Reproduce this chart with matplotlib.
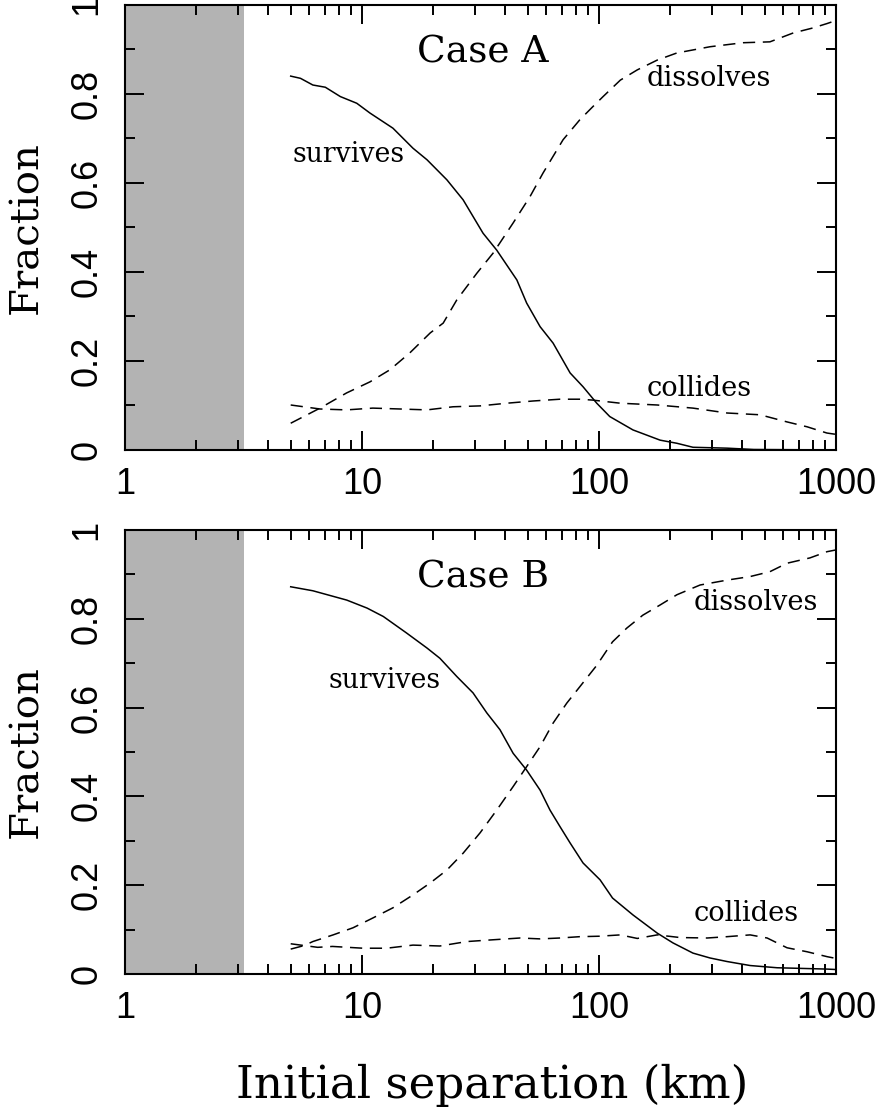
import numpy as np
import matplotlib
matplotlib.use("Agg")
import matplotlib.pyplot as plt
from matplotlib.ticker import FixedLocator, FixedFormatter

# --- data ---
# Case A
sa_x = [5.0, 5.5, 6.2, 7.0, 8.1, 9.5, 10.8, 13.5, 16.4, 18.8, 22.8, 26.7, 32.4, 37, 45, 49.5,
        56.4, 64, 75.5, 85.6, 97.8, 111, 139, 181, 213, 249, 347, 450, 1000]
sa_y = [0.84, 0.835, 0.82, 0.815, 0.794, 0.779, 0.757, 0.723, 0.678, 0.652, 0.607, 0.562,
        0.487, 0.449, 0.382, 0.33, 0.277, 0.24, 0.173, 0.142, 0.105, 0.075, 0.045, 0.022,
        0.015, 0.006, 0.004, 0.001, 0.0]

da_x = [5.0, 6.65, 8.6, 10.8, 13.1, 15.9, 19.4, 22, 25.1, 30.5, 35.7, 43.4, 51.1, 58, 70.5,
        83, 94, 104, 123, 145, 176, 213, 294, 405, 526, 660, 796, 915, 1000]
da_y = [0.06, 0.094, 0.128, 0.153, 0.18, 0.218, 0.263, 0.285, 0.337, 0.397, 0.442, 0.51,
        0.569, 0.622, 0.697, 0.742, 0.771, 0.794, 0.831, 0.854, 0.876, 0.892, 0.906, 0.915,
        0.917, 0.937, 0.948, 0.958, 0.965]

ca_x = [5.0, 6.65, 8.6, 11.1, 14.5, 18.8, 24.2, 31.5, 40.8, 52.7, 68.4, 83, 94, 123, 176,
        249, 347, 478, 621, 755, 915, 1000]
ca_y = [0.101, 0.092, 0.09, 0.094, 0.092, 0.09, 0.097, 0.099, 0.105, 0.11, 0.114, 0.114,
        0.112, 0.105, 0.101, 0.094, 0.083, 0.079, 0.063, 0.052, 0.038, 0.035]

# Case B
sb_x = [5.0, 6.2, 8.62, 10.5, 12.3, 15.4, 18.8, 21.3, 25.1, 29.4, 33.6, 38.2, 43.4, 49.5,
        56.4, 62.1, 68.4, 75.5, 85.6, 101, 114, 139, 176, 205, 249, 294, 347, 434, 564, 916, 1000]
sb_y = [0.872, 0.863, 0.842, 0.824, 0.805, 0.768, 0.734, 0.711, 0.67, 0.633, 0.588, 0.55,
        0.497, 0.459, 0.414, 0.369, 0.332, 0.295, 0.25, 0.212, 0.171, 0.133, 0.092, 0.07,
        0.047, 0.036, 0.028, 0.019, 0.014, 0.011, 0.01]

db_x = [5.0, 5.7, 6.2, 7.55, 9.16, 11.1, 13.5, 16.4, 19.4, 22.8, 26.7, 31.5, 37, 43.4, 49.5,
        56.4, 64, 73.1, 83, 97.8, 114, 131, 153, 181, 213, 267, 347, 434, 526, 621, 776, 916, 1000]
db_y = [0.056, 0.064, 0.073, 0.088, 0.104, 0.126, 0.149, 0.178, 0.205, 0.234, 0.272, 0.318,
        0.369, 0.422, 0.467, 0.512, 0.565, 0.61, 0.647, 0.695, 0.748, 0.779, 0.808, 0.831,
        0.854, 0.876, 0.887, 0.895, 0.906, 0.925, 0.937, 0.951, 0.955]

cb_x = [5.0, 5.7, 6.5, 7.5, 10.1, 12.7, 16.4, 21.3, 27.7, 35.7, 46.4, 56.4, 68.4, 83, 100,
        123, 145, 176, 220, 286, 347, 434, 512, 621, 755, 916, 1000]
cb_y = [0.068, 0.064, 0.06, 0.062, 0.058, 0.058, 0.065, 0.063, 0.073, 0.077, 0.081, 0.079,
        0.081, 0.084, 0.085, 0.088, 0.08, 0.088, 0.082, 0.081, 0.084, 0.088, 0.081, 0.059,
        0.05, 0.039, 0.035]

excluded_max = 10 ** 0.5   # shaded region 1 .. ~3.16 km

x_ticks = [1, 10, 100, 1000]
x_tick_labels = ["1", "10", "100", "1000"]
x_minor = [2, 3, 4, 5, 6, 7, 8, 9, 20, 30, 40, 50, 60, 70, 80, 90,
           200, 300, 400, 500, 600, 700, 800, 900]
y_ticks = [0, 0.2, 0.4, 0.6, 0.8, 1.0]
y_tick_labels = ["0", "0.2", "0.4", "0.6", "0.8", "1"]
y_minor = [0.1, 0.3, 0.5, 0.7, 0.9]

panels = [
    ("Case A", sa_x, sa_y, da_x, da_y, ca_x, ca_y,
     (5.07, 0.663), (159, 0.834), (159, 0.139)),
    ("Case B", sb_x, sb_y, db_x, db_y, cb_x, cb_y,
     (7.19, 0.662), (250, 0.836), (250, 0.137)),
]

serif = "DejaVu Serif"
tickfont = "Liberation Sans"

fig = plt.figure(figsize=(8.88, 11.14), dpi=100)
rects = [[0.1408, 0.5961, 0.8007, 0.3995], [0.1408, 0.1257, 0.8007, 0.3986]]

for rect, (title, sx, sy, dx, dy, cx, cy, spos, dpos, cpos) in zip(rects, panels):
    ax = fig.add_axes(rect)
    ax.set_xscale("log")
    ax.set_xlim(1, 1000)
    ax.set_ylim(0, 1)
    ax.axvspan(1, excluded_max, color="#b3b3b3", lw=0, zorder=0)

    ax.plot(sx, sy, color="black", lw=1.1)
    ax.plot(dx, dy, color="black", lw=1.1, dashes=(8, 5))
    ax.plot(cx, cy, color="black", lw=1.1, dashes=(8, 5))

    ax.text(10 ** 1.51, 0.893, title, family=serif, fontsize=27, ha="center", va="center")
    ax.text(spos[0], spos[1], "survives", family=serif, fontsize=19.3, ha="left", va="center")
    ax.text(dpos[0], dpos[1], "dissolves", family=serif, fontsize=19.6, ha="left", va="center")
    ax.text(cpos[0], cpos[1], "collides", family=serif, fontsize=19.6, ha="left", va="center")

    ax.xaxis.set_major_locator(FixedLocator(x_ticks))
    ax.xaxis.set_major_formatter(FixedFormatter(x_tick_labels))
    ax.xaxis.set_minor_locator(FixedLocator(x_minor))
    ax.xaxis.set_minor_formatter(FixedFormatter([""] * len(x_minor)))
    ax.yaxis.set_major_locator(FixedLocator(y_ticks))
    ax.yaxis.set_major_formatter(FixedFormatter(y_tick_labels))
    ax.yaxis.set_minor_locator(FixedLocator(y_minor))

    ax.tick_params(which="both", direction="in", top=True, right=True, width=1.4)
    ax.tick_params(which="major", length=13.7)
    ax.tick_params(which="minor", length=7.2)
    ax.tick_params(axis="x", which="major", pad=12)
    ax.tick_params(axis="y", which="major", pad=15)
    for lab in ax.get_xticklabels():
        lab.set_family(tickfont)
        lab.set_fontsize(26)
    for lab in ax.get_yticklabels():
        lab.set_family(tickfont)
        lab.set_fontsize(26)
        lab.set_rotation(90)
        lab.set_va("center")
    for sp in ax.spines.values():
        sp.set_linewidth(1.5)

    ax.set_ylabel("Fraction", family=serif, fontsize=29, va="center")
    ax.yaxis.set_label_coords(-0.138, 0.5)

fig.text(0.5546, 0.026, "Initial separation (km)", family=serif, fontsize=32.5,
         ha="center", va="center")

fig.savefig("out.png", dpi=100)
